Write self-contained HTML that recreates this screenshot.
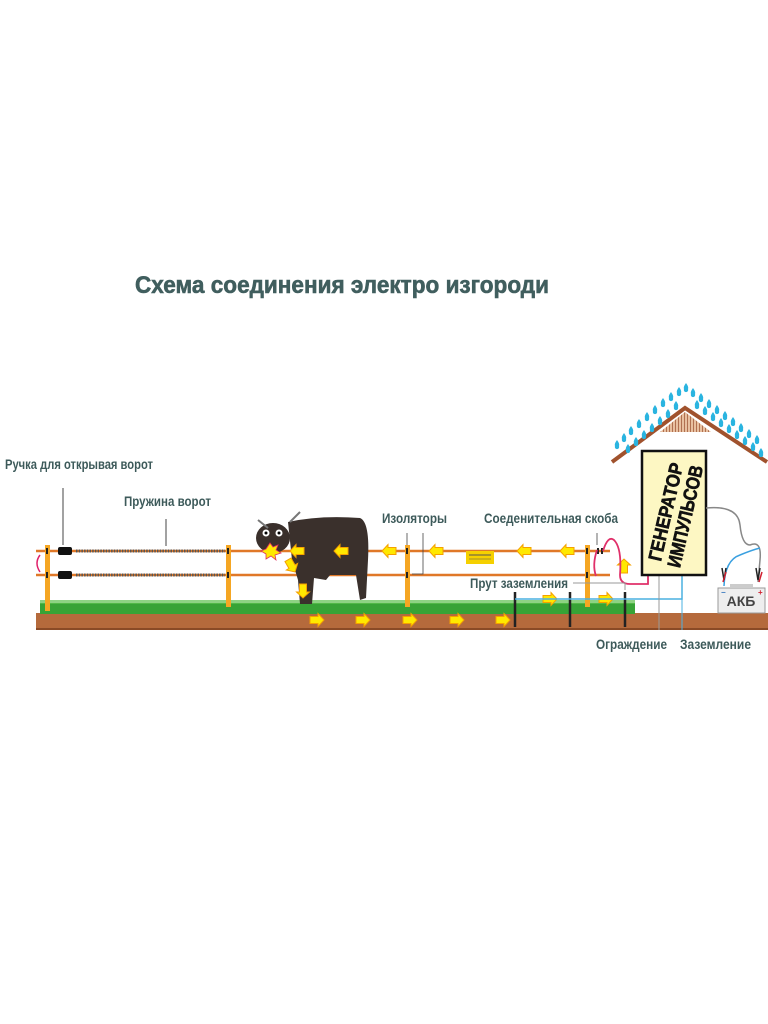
<!DOCTYPE html>
<html><head><meta charset="utf-8"><style>
html,body{margin:0;padding:0;background:#fff;width:768px;height:1024px;overflow:hidden}
svg text{font-family:"Liberation Sans",sans-serif;font-weight:bold}
</style></head><body>
<svg width="768" height="1024" viewBox="0 0 768 1024" xmlns="http://www.w3.org/2000/svg">
<defs>
<g id="ar"><polygon points="-6,-3.5 2,-3.5 2,-6.5 8,0 2,6.5 2,3.5 -6,3.5" fill="#ffe800" stroke="#f5a000" stroke-width="1"/></g>
<g id="drop"><path d="M0,-4 Q3,0 2,2 A2.2,2.2 0 1 1 -2,2 Q-3,0 0,-4z" fill="#2ab4e0"/></g>
<pattern id="hatch" width="3" height="6" patternUnits="userSpaceOnUse"><rect width="3" height="6" fill="#e8c0a0"/><rect width="1" height="6" fill="#b07050"/></pattern>
</defs>
<text x="342" y="293" font-size="24" fill="#405e5e" text-anchor="middle" textLength="414" lengthAdjust="spacingAndGlyphs" stroke="#405e5e" stroke-width="0.6">Схема соединения электро изгороди</text>

<!-- ground -->
<rect x="36" y="613" width="732" height="16" fill="#b56a3c"/>
<rect x="36" y="628" width="732" height="2" fill="#8a4a26"/>
<!-- grass -->
<rect x="40" y="603" width="595" height="11" fill="#37a336"/>
<path d="M40,604 l3,-5 l3,5 l3,-6 l3,6 l3,-5 l3,5 l3,-6 l3,6" fill="none"/>
<rect x="40" y="600" width="595" height="4" fill="#5cc04e" opacity="0.7"/>

<!-- wires -->
<line x1="36" y1="551" x2="610" y2="551" stroke="#e07828" stroke-width="2.5"/>
<line x1="36" y1="575" x2="610" y2="575" stroke="#e07828" stroke-width="2.5"/>
<!-- springs -->
<line x1="76" y1="551" x2="225" y2="551" stroke="#555" stroke-width="3" stroke-dasharray="1.5 1.2"/>
<line x1="76" y1="575" x2="225" y2="575" stroke="#555" stroke-width="3" stroke-dasharray="1.5 1.2"/>
<rect x="58" y="547" width="14" height="8" rx="2" fill="#111"/>
<rect x="58" y="571" width="14" height="8" rx="2" fill="#111"/>
<path d="M40,555 Q34,563 40,572" stroke="#e0206a" stroke-width="1.5" fill="none"/>
<line x1="63" y1="488" x2="63" y2="545" stroke="#444" stroke-width="1"/>
<line x1="166" y1="519" x2="166" y2="546" stroke="#444" stroke-width="1"/>

<!-- posts -->
<rect x="45" y="545" width="5" height="66" fill="#f5a623"/>
<rect x="226" y="545" width="5" height="62" fill="#f5a623"/>
<rect x="405" y="545" width="5" height="62" fill="#f5a623"/>
<rect x="585" y="545" width="5" height="62" fill="#f5a623"/>

<!-- cow -->
<g fill="#3a302c">
<path d="M288,522 Q320,515 360,518 Q370,522 368,560 L366,598 L360,600 L356,575 L330,575 L326,580 L314,578 L312,604 L300,604 L298,580 L292,560 Z"/>
<ellipse cx="273" cy="538" rx="17" ry="15"/>
<path d="M258,520 L268,528 M290,522 L300,512" stroke="#777" stroke-width="2"/>
</g>
<circle cx="266" cy="533" r="3.5" fill="#fff"/><circle cx="279" cy="533" r="3.5" fill="#fff"/>
<circle cx="266" cy="533" r="1.5" fill="#000"/><circle cx="279" cy="533" r="1.5" fill="#000"/>
<polygon points="270,543 273,547 278,545 276,550 281,553 275,555 276,560 271,556 266,559 266,554 261,551 266,549" fill="#ffe800" stroke="#e03060" stroke-width="0.8"/>

<g>
<use href="#ar" transform="translate(298 551) scale(-1 1)"/>
<use href="#ar" transform="translate(342 551) scale(-1 1)"/>
<use href="#ar" transform="translate(390 551) scale(-1 1)"/>
<use href="#ar" transform="translate(437 551) scale(-1 1)"/>
<use href="#ar" transform="translate(525 551) scale(-1 1)"/>
<use href="#ar" transform="translate(568 551) scale(-1 1)"/>
<use href="#ar" transform="translate(291 565) rotate(60)"/>
<use href="#ar" transform="translate(303 590) rotate(90)"/>
<use href="#ar" transform="translate(316 620)"/>
<use href="#ar" transform="translate(362 620)"/>
<use href="#ar" transform="translate(409 620)"/>
<use href="#ar" transform="translate(456 620)"/>
<use href="#ar" transform="translate(502 620)"/>
<use href="#ar" transform="translate(549 599)"/>
<use href="#ar" transform="translate(605 599)"/>
<use href="#ar" transform="translate(624 567) rotate(-90)"/>
</g>
<!-- warning sign -->
<rect x="466" y="551" width="28" height="13" fill="#f5d000"/>
<line x1="469" y1="555" x2="491" y2="555" stroke="#555" stroke-width="1"/>
<line x1="469" y1="559" x2="491" y2="559" stroke="#555" stroke-width="0.6"/>

<g fill="#222"><rect x="406" y="548" width="2" height="6"/><rect x="406" y="572" width="2" height="6"/>
<rect x="586" y="548" width="2" height="6"/><rect x="586" y="572" width="2" height="6"/>
<rect x="46" y="548" width="2" height="6"/><rect x="46" y="572" width="2" height="6"/>
<rect x="227" y="548" width="2" height="6"/><rect x="227" y="572" width="2" height="6"/>
<rect x="597" y="548" width="2" height="6"/><rect x="601" y="548" width="2" height="6"/></g>
<line x1="407" y1="533" x2="407" y2="545" stroke="#444" stroke-width="0.8"/>
<path d="M423,533 L423,574 L412,574" stroke="#444" stroke-width="0.8" fill="none"/>
<line x1="597" y1="533" x2="597" y2="545" stroke="#444" stroke-width="0.8"/>

<!-- red jumper -->
<path d="M603,551 Q608,535 614,540 Q622,548 620,575 Q620,584 630,584 L648,584 L648,575" stroke="#e0306a" stroke-width="1.8" fill="none"/>
<path d="M597,550 Q592,565 596,576" stroke="#e0306a" stroke-width="1.8" fill="none"/>

<!-- ground rods -->
<g stroke="#222" stroke-width="2.5"><line x1="515" y1="592" x2="515" y2="627"/><line x1="570" y1="592" x2="570" y2="627"/><line x1="625" y1="592" x2="625" y2="627"/></g>
<path d="M515,599 L682,599 L682,575" stroke="#4ab0e0" stroke-width="1.5" fill="none"/>
<path d="M573,583 L625,583 L625,590" stroke="#999" stroke-width="1" fill="none"/>
<line x1="659" y1="575" x2="659" y2="630" stroke="#999" stroke-width="1"/>
<line x1="682" y1="599" x2="682" y2="630" stroke="#4ab0e0" stroke-width="1"/>

<!-- house -->
<polygon points="685,412 660,432 711,432" fill="url(#hatch)"/>
<path d="M612,462 L685,408 L767,462" stroke="#a0522d" stroke-width="4" fill="none"/>
<g>
<use href="#drop" x="617" y="444"/><use href="#drop" x="624" y="437"/><use href="#drop" x="631" y="430"/><use href="#drop" x="639" y="423"/><use href="#drop" x="647" y="416"/><use href="#drop" x="655" y="409"/><use href="#drop" x="663" y="402"/><use href="#drop" x="671" y="396"/><use href="#drop" x="679" y="391"/><use href="#drop" x="686" y="387"/>
<use href="#drop" x="628" y="448"/><use href="#drop" x="636" y="441"/><use href="#drop" x="644" y="434"/><use href="#drop" x="652" y="427"/><use href="#drop" x="660" y="420"/><use href="#drop" x="668" y="413"/><use href="#drop" x="676" y="405"/>
<use href="#drop" x="693" y="392"/><use href="#drop" x="701" y="397"/><use href="#drop" x="709" y="403"/><use href="#drop" x="717" y="409"/><use href="#drop" x="725" y="415"/><use href="#drop" x="733" y="421"/><use href="#drop" x="741" y="427"/><use href="#drop" x="749" y="433"/><use href="#drop" x="757" y="439"/>
<use href="#drop" x="697" y="404"/><use href="#drop" x="705" y="410"/><use href="#drop" x="713" y="416"/><use href="#drop" x="721" y="422"/><use href="#drop" x="729" y="428"/><use href="#drop" x="737" y="434"/><use href="#drop" x="745" y="440"/><use href="#drop" x="753" y="446"/><use href="#drop" x="761" y="452"/>
</g>
<!-- generator -->
<rect x="642" y="451" width="64" height="124" fill="#fdf7c3" stroke="#111" stroke-width="2.5"/>
<g transform="translate(675 514) rotate(-77)">
<text x="0" y="-3" font-size="19" text-anchor="middle" fill="#111" textLength="100" lengthAdjust="spacingAndGlyphs" stroke="#111" stroke-width="0.6">ГЕНЕРАТОР</text>
<text x="0" y="17" font-size="19" text-anchor="middle" fill="#111" textLength="104" lengthAdjust="spacingAndGlyphs" stroke="#111" stroke-width="0.6">ИМПУЛЬСОВ</text>
</g>
<!-- battery wires -->
<path d="M706,508 Q738,505 740,525 Q742,545 750,545 Q762,540 760,560 L758,582" stroke="#888" stroke-width="1.5" fill="none"/>
<path d="M724,586 Q725,560 740,555 Q752,550 760,548" stroke="#3aa0e0" stroke-width="1.5" fill="none"/>
<path d="M722,568 l2,12 l2,-12 M756,568 l2,12 l2,-12" stroke="#222" stroke-width="1.5" fill="none"/>
<path d="M726,572 l-3,10 M762,572 l-3,10" stroke="#d02030" stroke-width="1.5"/>
<rect x="718" y="588" width="47" height="25" fill="#eeeeee" stroke="#999" stroke-width="1"/>
<rect x="730" y="584" width="23" height="4" fill="#ccc"/>
<text x="741" y="606" font-size="14" text-anchor="middle" fill="#444">АКБ</text>
<text x="721" y="595" font-size="8" fill="#3a7ac0">−</text>
<text x="758" y="595" font-size="8" fill="#d02030">+</text>

<!-- labels -->
<g fill="#3d5a5a" font-size="13.5">
<text x="5" y="469" textLength="148" lengthAdjust="spacingAndGlyphs">Ручка для открывая ворот</text>
<text x="124" y="506" textLength="87" lengthAdjust="spacingAndGlyphs">Пружина ворот</text>
<text x="382" y="523" textLength="65" lengthAdjust="spacingAndGlyphs">Изоляторы</text>
<text x="484" y="523" textLength="134" lengthAdjust="spacingAndGlyphs">Соеденительная скоба</text>
<text x="470" y="588" textLength="98" lengthAdjust="spacingAndGlyphs">Прут заземления</text>
<text x="596" y="649" textLength="71" lengthAdjust="spacingAndGlyphs">Ограждение</text>
<text x="680" y="649" textLength="71" lengthAdjust="spacingAndGlyphs">Заземление</text>
</g>
</svg>
</body></html>
